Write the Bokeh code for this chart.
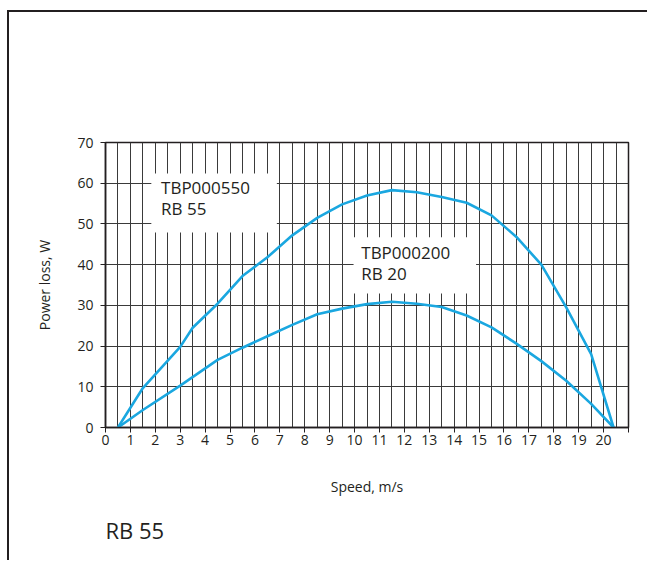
from bokeh.plotting import figure
from bokeh.models import FixedTicker, Range1d, Title, ColumnDataSource
from bokeh.core.properties import value
from bokeh.embed import file_html
from bokeh.resources import INLINE

# ---- data ----
x_upper = [0.5, 1.5, 3.0, 3.5, 4.5, 5.5, 6.5, 7.5, 8.5, 9.5, 10.5, 11.5, 12.5, 13.5, 14.5, 15.5, 16.5, 17.5, 18.5, 19.5, 20.4]
y_upper = [0, 9.7, 19.8, 24.5, 30.4, 37.2, 41.8, 47.2, 51.5, 54.8, 57.0, 58.3, 57.8, 56.6, 55.2, 52.1, 46.8, 40.0, 29.5, 18.0, 0]
x_lower = [0.5, 1.5, 3.0, 4.5, 5.5, 6.5, 7.5, 8.5, 9.5, 10.5, 11.5, 12.5, 13.5, 14.5, 15.5, 16.5, 17.5, 18.5, 19.5, 20.4]
y_lower = [0, 4.3, 10.3, 16.6, 19.6, 22.4, 25.2, 27.8, 29.2, 30.3, 30.9, 30.4, 29.6, 27.5, 24.6, 20.6, 16.3, 11.5, 5.8, 0]

x_ticks = list(range(0, 22))
y_ticks = [0, 10, 20, 30, 40, 50, 60, 70]
x_grid = [i / 2 for i in range(1, 42)]
y_grid = [10, 20, 30, 40, 50, 60]

label_texts = ["TBP000550\nRB 55", "TBP000200\nRB 20"]
label_x = [2.23, 10.27]
label_y = [61.7, 45.7]
box_left = [1.84, 9.96]
box_right = [6.88, 14.88]
box_bottom = [47.9, 32.9]
box_top = [62.4, 46.7]

FONT = "Open Sans"
INK = "#231f20"
BLUE = "#1aa7e0"

p = figure(width=640, height=550, output_backend="svg", toolbar_location=None, tools="",
           x_range=Range1d(0, 21), y_range=Range1d(0, 70),
           min_border_left=96, min_border_right=21, min_border_top=130, min_border_bottom=135)
p.toolbar.logo = None
p.styles = {"box-shadow": f"-2px -2px 0px 0px {INK}",
            "margin-top": "12px", "margin-left": "9px"}

p.background_fill_color = "white"
p.border_fill_color = "white"
p.outline_line_color = INK
p.outline_line_width = 1.5

# grids
p.xgrid.ticker = FixedTicker(ticks=x_grid)
p.ygrid.ticker = FixedTicker(ticks=y_grid)
for g in (p.xgrid, p.ygrid):
    g.grid_line_color = "#3a3a3a"
    g.grid_line_width = 1

# axes
p.xaxis.ticker = FixedTicker(ticks=x_ticks)
p.xaxis.major_label_overrides = {21: ""}
p.yaxis.ticker = FixedTicker(ticks=y_ticks)
for ax in (p.xaxis, p.yaxis):
    ax.axis_line_color = INK
    ax.axis_line_width = 1.5
    ax.major_tick_line_color = INK
    ax.major_tick_in = 0
    ax.major_tick_out = 5
    ax.minor_tick_line_color = None
    ax.major_label_text_font = FONT
    ax.major_label_text_font_size = "14px"
    ax.major_label_text_color = INK
    ax.axis_label_text_font = FONT
    ax.axis_label_text_font_size = "14px"
    ax.axis_label_text_font_style = "normal"
    ax.axis_label_text_color = INK
p.xaxis.axis_label = "Speed, m/s"
p.yaxis.axis_label = "Power loss, W"
p.xaxis.major_label_standoff = 2
p.yaxis.major_label_standoff = 7
p.xaxis.axis_label_standoff = 29
p.yaxis.axis_label_standoff = 20

# curves
p.line(x_upper, y_upper, line_color=BLUE, line_width=2.6)
p.line(x_lower, y_lower, line_color=BLUE, line_width=2.6)

# label boxes
p.quad(left=box_left, right=box_right, bottom=box_bottom, top=box_top,
       fill_color="white", line_color=None)
src = ColumnDataSource(dict(x=label_x, y=label_y, t=label_texts))
p.text(x="x", y="y", text="t", source=src, text_font=value(FONT), text_font_size="17px",
       text_color=INK, text_baseline="top", text_align="left", text_line_height=0.91)

p.add_layout(Title(text="RB 55", text_font=FONT, text_font_size="22px",
                   text_font_style="normal", text_color=INK, align="left",
                   standoff=28), "below")

open("out.html", "w").write(file_html(p, INLINE))
